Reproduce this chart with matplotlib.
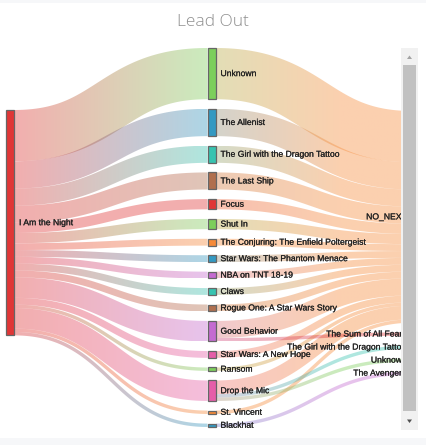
import numpy as np
import matplotlib
matplotlib.use("Agg")
import matplotlib.pyplot as plt
from matplotlib.patches import Rectangle, Polygon
from matplotlib.colors import LinearSegmentedColormap
import matplotlib.patheffects as pe

# ---- data ----
title = "Lead Out"
source_name = "I Am the Night"
middle_names = ["Unknown", "The Allenist", "The Girl with the Dragon Tattoo", "The Last Ship",
                "Focus", "Shut In", "The Conjuring: The Enfield Poltergeist",
                "Star Wars: The Phantom Menace", "NBA on TNT 18-19", "Claws",
                "Rogue One: A Star Wars Story", "Good Behavior", "Star Wars: A New Hope",
                "Ransom", "Drop the Mic", "St. Vincent", "Blackhat"]
middle_values = [15, 8, 5, 5, 3, 3, 2, 2, 2, 2, 2, 6, 2, 1, 6, 1, 1]
right_names = ["NO_NEXT", "The Sum of All Fears", "The Girl with the Dragon Tattoo",
               "Unknown", "The Avengers"]
# onward links that do not end in NO_NEXT
onward_from = ["Good Behavior", "Drop the Mic", "Drop the Mic", "Blackhat"]
onward_to = ["The Sum of All Fears", "The Girl with the Dragon Tattoo", "Unknown", "The Avengers"]
onward_values = [1, 1, 1, 1]

# ---- style ----
RED, GREEN, BLUE, TEAL = "#e03636", "#7ccf5b", "#3399c2", "#37c3b0"
BROWN, ORANGE, PURPLE, PINK = "#b06f4e", "#f68a38", "#c46bd1", "#e55ea9"
source_color = RED
middle_colors = [GREEN, BLUE, TEAL, BROWN, RED, GREEN, ORANGE, BLUE, PURPLE, TEAL,
                 BROWN, PURPLE, PINK, GREEN, PINK, ORANGE, BLUE]
right_colors = [ORANGE, RED, TEAL, GREEN, PURPLE]

W, H = 426, 445
col_x = [6, 207.5, 412.5]
col_top = [110, 48, 111]
node_w = 8
pad = 9.6
mid_bottom = 427
label_fs = 6.2
clip_x = 401

# ---- build graph ----
nodes = [dict(name=source_name, col=0, color=source_color)]
for n, c in zip(middle_names, middle_colors):
    nodes.append(dict(name=n, col=1, color=c))
for n, c in zip(right_names, right_colors):
    nodes.append(dict(name=n, col=2, color=c))
mid_idx = {n: i + 1 for i, n in enumerate(middle_names)}
right_idx = {n: i + 1 + len(middle_names) for i, n in enumerate(right_names)}

links = []
for n, v in zip(middle_names, middle_values):
    links.append([0, mid_idx[n], v])
onward_total = {n: 0 for n in middle_names}
for f, t, v in zip(onward_from, onward_to, onward_values):
    onward_total[f] += v
for n, v in zip(middle_names, middle_values):
    rest = v - onward_total[n]
    if rest > 0:
        links.append([mid_idx[n], right_idx["NO_NEXT"], rest])
for f, t, v in zip(onward_from, onward_to, onward_values):
    links.append([mid_idx[f], right_idx[t], v])

for i, nd in enumerate(nodes):
    out_v = sum(l[2] for l in links if l[0] == i)
    in_v = sum(l[2] for l in links if l[1] == i)
    nd["value"] = max(out_v, in_v)

ky = (mid_bottom - col_top[1] - pad * (len(middle_names) - 1)) / sum(middle_values)

for col in range(3):
    y = col_top[col]
    for nd in nodes:
        if nd["col"] == col:
            nd["y0"] = y
            nd["y1"] = y + nd["value"] * ky
            y = nd["y1"] + pad

# link end positions
link_pos = [dict() for _ in links]
for i, nd in enumerate(nodes):
    outs = sorted([k for k, l in enumerate(links) if l[0] == i], key=lambda k: nodes[links[k][1]]["y0"])
    y = nd["y0"]
    for k in outs:
        link_pos[k]["sy"] = y
        y += links[k][2] * ky
    ins = sorted([k for k, l in enumerate(links) if l[1] == i], key=lambda k: nodes[links[k][0]]["y0"])
    y = nd["y0"]
    for k in ins:
        link_pos[k]["ty"] = y
        y += links[k][2] * ky

fig = plt.figure(figsize=(W / 100, H / 100), dpi=100)
ax = fig.add_axes([0, 0, 1, 1])
ax.set_xlim(0, W)
ax.set_ylim(H, 0)
ax.axis("off")

t = np.linspace(0, 1, 120)
for k, (s, tg, v) in enumerate(links):
    w = v * ky
    x0 = col_x[nodes[s]["col"]] + node_w
    x1 = col_x[nodes[tg]["col"]]
    ys = link_pos[k]["sy"] + w / 2
    yt = link_pos[k]["ty"] + w / 2
    xm = (x0 + x1) / 2
    bx = (1 - t) ** 3 * x0 + 3 * (1 - t) ** 2 * t * xm + 3 * (1 - t) * t ** 2 * xm + t ** 3 * x1
    by = (1 - t) ** 3 * ys + 3 * (1 - t) ** 2 * t * ys + 3 * (1 - t) * t ** 2 * yt + t ** 3 * yt
    dx = 3 * (1 - t) ** 2 * (xm - x0) + 3 * t ** 2 * (x1 - xm)
    dy = 6 * (1 - t) * t * (yt - ys)
    norm = np.hypot(dx, dy)
    nx, ny = -dy / norm, dx / norm
    upper = np.column_stack([bx + nx * w / 2, by + ny * w / 2])
    lower = np.column_stack([bx - nx * w / 2, by - ny * w / 2])
    poly = np.vstack([upper, lower[::-1]])
    patch = Polygon(poly, closed=True, facecolor="none", edgecolor="none", transform=ax.transData)
    ax.add_patch(patch)
    # the second step's gradient is shifted left in the original chart
    if nodes[s]["col"] == 0:
        gx0, gx1 = x0, x1
    else:
        gx0, gx1 = x0 - 125, x0 + 125
    cmap = LinearSegmentedColormap.from_list("g", [nodes[s]["color"], nodes[tg]["color"]])
    xs = np.linspace(x0, x1, 256)
    frac = np.clip((xs - gx0) / (gx1 - gx0), 0, 1)
    ymin, ymax = poly[:, 1].min(), poly[:, 1].max()
    im = ax.imshow(frac[None, :], cmap=cmap, vmin=0, vmax=1, aspect="auto", alpha=0.4,
                   extent=[x0, x1, ymax, ymin], interpolation="bilinear", zorder=1)
    im.set_clip_path(patch)

halo = [pe.withStroke(linewidth=0.12, foreground="#222222")]
for nd in nodes:
    x = col_x[nd["col"]]
    ax.add_patch(Rectangle((x, nd["y0"]), node_w, nd["y1"] - nd["y0"], facecolor=nd["color"],
                           edgecolor="#666666", linewidth=0.9, zorder=3))
    yc = (nd["y0"] + nd["y1"]) / 2
    if nd["col"] < 2:
        ax.text(x + node_w + 5, yc, nd["name"], fontsize=label_fs, color="#222222",
                va="center", ha="left", family="Liberation Sans", zorder=4, path_effects=halo)
    else:
        ax.text(x - 5.5, yc, nd["name"], fontsize=label_fs, color="#222222",
                va="center", ha="right", family="Liberation Sans", zorder=4, path_effects=halo)

# scroll container edge
ax.add_patch(Rectangle((clip_x, 0), W - clip_x, H, facecolor="white", edgecolor="none", zorder=5))
ax.add_patch(Rectangle((401, 48), 16.5, 382, facecolor="#f1f1f1", edgecolor="none", zorder=6))
ax.add_patch(Rectangle((403, 65), 13, 346, facecolor="#c1c1c1", edgecolor="none", zorder=7))
ax.add_patch(Polygon([[407, 59], [412, 59], [409.5, 55.5]], facecolor="#a3a3a3", edgecolor="none", zorder=7))
ax.add_patch(Polygon([[407, 419.5], [412, 419.5], [409.5, 423]], facecolor="#505050", edgecolor="none", zorder=7))
ax.add_patch(Rectangle((0, 0), W, 3, facecolor="#f6f7f9", edgecolor="none", zorder=8))
ax.add_patch(Rectangle((0, 438), W, 7, facecolor="#f6f7f9", edgecolor="none", zorder=8))

ax.text(W / 2, 21.5, title, fontsize=12.5, color="#8f8f8f", ha="center", va="center",
        family="Open Sans", fontweight="light", zorder=9)

fig.savefig("out.png", dpi=100)
